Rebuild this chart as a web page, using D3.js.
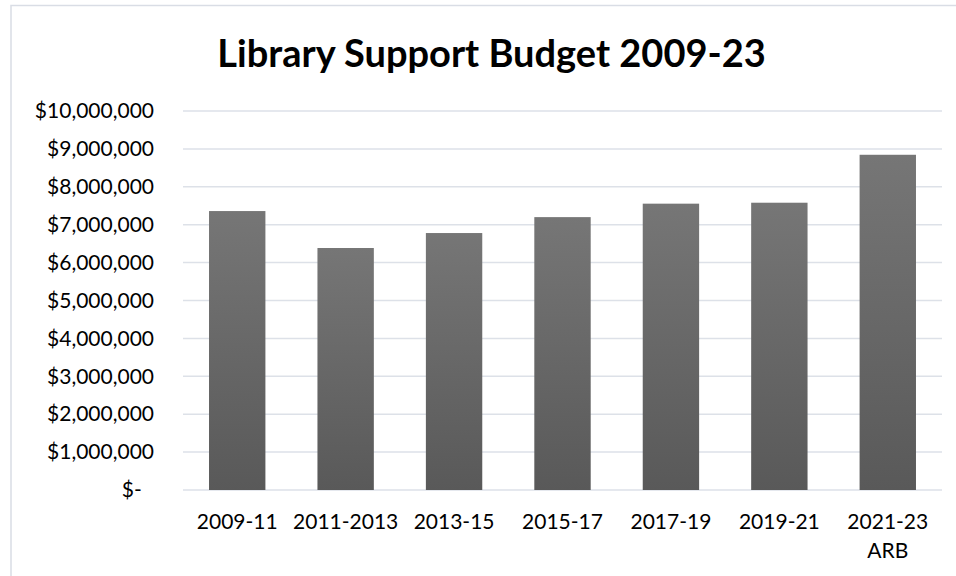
<!DOCTYPE html>
<html>
<head>
<meta charset="utf-8">
<script src="https://cdn.jsdelivr.net/npm/d3@7"></script>
<style>
  html, body { margin: 0; padding: 0; background: #fff; }
  svg { display: block; }
</style>
</head>
<body>
<script>
// Biennial library support budget figures
const categories = ["2009-11", "2011-2013", "2013-15", "2015-17", "2017-19", "2019-21", "2021-23 ARB"];
const budget = [7360000, 6385000, 6780000, 7200000, 7555000, 7580000, 8845000];
const yTicks = [0, 1000000, 2000000, 3000000, 4000000, 5000000, 6000000, 7000000, 8000000, 9000000, 10000000];
const chartTitle = "Library Support Budget 2009-23";

const width = 956, height = 576;
const margin = { top: 111, right: 14, bottom: 86, left: 183 };
const font = "Lato, 'Open Sans', sans-serif";

const svg = d3.select("body").append("svg")
  .attr("width", width)
  .attr("height", height);

// Outer chart frame (runs off the right and bottom edges)
svg.append("rect")
  .attr("x", 11).attr("y", 5.5)
  .attr("width", width + 20).attr("height", height + 20)
  .attr("fill", "#fff")
  .attr("stroke", "#d9dde5")
  .attr("stroke-width", 1.5);

// Bar fill: lighter grey at the top fading to darker at the base
const defs = svg.append("defs");
const grad = defs.append("linearGradient")
  .attr("id", "barFill")
  .attr("x1", 0).attr("y1", 0).attr("x2", 0).attr("y2", 1);
grad.append("stop").attr("offset", "0%").attr("stop-color", "#767676");
grad.append("stop").attr("offset", "100%").attr("stop-color", "#595959");

const x = d3.scaleBand()
  .domain(categories)
  .range([margin.left, width - margin.right])
  .paddingInner(0.48)
  .paddingOuter(0.24);

const y = d3.scaleLinear()
  .domain([0, 10000000])
  .range([height - margin.bottom, margin.top]);

// Title
svg.append("text")
  .attr("x", 491.5)
  .attr("y", 67)
  .attr("text-anchor", "middle")
  .attr("font-family", font)
  .attr("font-weight", "bold")
  .attr("font-size", 38)
  .attr("fill", "#000")
  .text(chartTitle);

// Horizontal gridlines
svg.append("g")
  .selectAll("line")
  .data(yTicks)
  .join("line")
  .attr("x1", margin.left)
  .attr("x2", width - margin.right)
  .attr("y1", d => y(d))
  .attr("y2", d => y(d))
  .attr("stroke", "#dde1e8")
  .attr("stroke-width", 1.5);

// Bars
svg.append("g")
  .selectAll("rect")
  .data(categories.map((c, i) => ({ c, v: budget[i] })))
  .join("rect")
  .attr("x", d => x(d.c))
  .attr("width", x.bandwidth())
  .attr("y", d => y(d.v))
  .attr("height", d => y(0) - y(d.v))
  .attr("fill", "url(#barFill)");

// Y axis labels in accounting style ($- for zero)
const money = d3.format(",");
const yAxis = d3.axisLeft(y)
  .tickValues(yTicks)
  .tickSize(0)
  .tickPadding(0)
  .tickFormat(d => d === 0 ? "$-\u2007" : "$" + money(d));

const gy = svg.append("g")
  .attr("transform", `translate(154,0)`)
  .call(yAxis);
gy.select(".domain").remove();
gy.selectAll("text")
  .attr("font-family", font)
  .attr("font-size", 21)
  .attr("fill", "#000");

// X axis category labels, wrapped on spaces
const xAxis = d3.axisBottom(x).tickSize(0).tickPadding(0).tickFormat("");
const gx = svg.append("g")
  .attr("transform", `translate(0,${y(0)})`)
  .call(xAxis);
gx.select(".domain").remove();
gx.selectAll(".tick").each(function (d) {
  const t = d3.select(this).append("text")
    .attr("text-anchor", "middle")
    .attr("font-family", font)
    .attr("font-size", 21)
    .attr("fill", "#000")
    .attr("y", 39);
  d.split(" ").forEach((part, i) => {
    t.append("tspan")
      .attr("x", 0)
      .attr("dy", i === 0 ? 0 : 29)
      .text(part);
  });
});
</script>
</body>
</html>
